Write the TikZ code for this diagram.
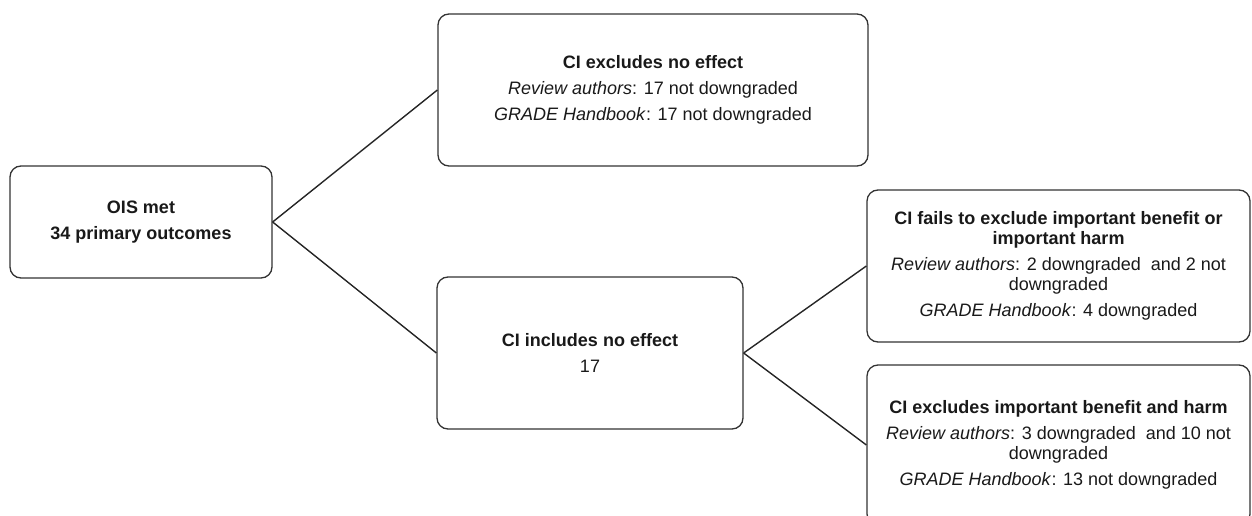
\documentclass[tikz,border=0pt]{standalone}
\usepackage{fontspec}
\setmainfont{Liberation Sans}
\begin{document}
\begin{tikzpicture}[x=1pt,y=-1pt,
  box/.style={draw=black!80, line width=1.3pt, rounded corners=11pt, align=center,
    font=\fontsize{18}{20}\selectfont, text=black!90, inner sep=0pt},
  link/.style={draw=black!85, line width=1.4pt}]
\useasboundingbox (0,0) rectangle (1252,516);
\clip (0,0) rectangle (1252,516);
\node[box, minimum width=262pt, minimum height=112pt] (ois) at (141,222)
  {\textbf{OIS met}\\[6pt]\textbf{34 primary outcomes}};
\node[box, minimum width=430pt, minimum height=152pt] (excl) at (653,90)
  {\textbf{CI excludes no effect}\\[6pt]\textit{Review authors}: 17 not downgraded\\[6pt]\textit{GRADE Handbook}: 17 not downgraded};
\node[box, minimum width=306pt, minimum height=152pt] (incl) at (590,353)
  {\textbf{CI includes no effect}\\[6pt]17};
\node[box, minimum width=383pt, minimum height=152pt] (fails) at (1058.5,266)
  {\textbf{CI fails to exclude important benefit or}\\\textbf{important harm}\\[6pt]\textit{Review authors}: 2 downgraded \ and 2 not\\downgraded\\[6pt]\textit{GRADE Handbook}: 4 downgraded};
\node[box, minimum width=383pt, minimum height=160pt] (excimp) at (1058.5,445)
  {\textbf{CI excludes important benefit and harm}\\[6pt]\textit{Review authors}: 3 downgraded \ and 10 not\\downgraded\\[6pt]\textit{GRADE Handbook}: 13 not downgraded};
\draw[link] (ois.east) -- (excl.west);
\draw[link] (ois.east) -- (incl.west);
\draw[link] (incl.east) -- (fails.west);
\draw[link] (incl.east) -- (excimp.west);
\end{tikzpicture}
\end{document}
